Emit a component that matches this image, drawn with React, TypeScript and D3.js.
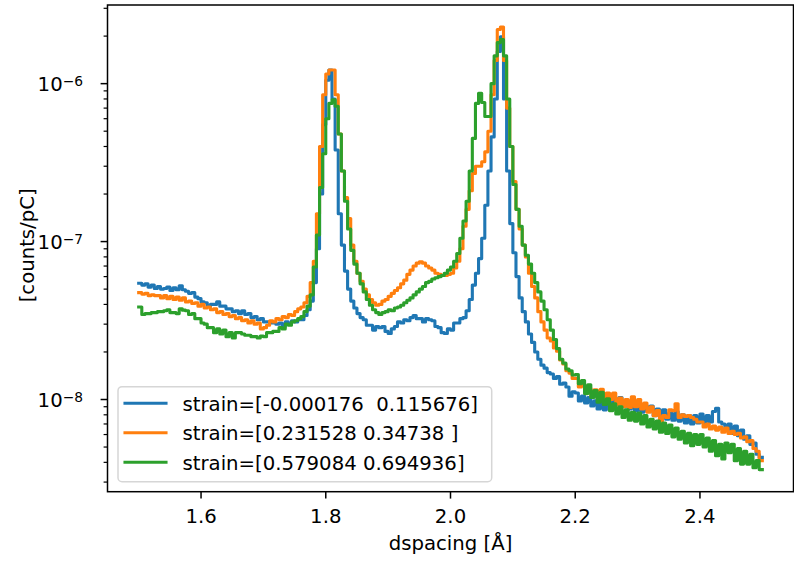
import React from 'react';
import * as d3 from 'd3';

// bin grid (d-spacing, Å)
const D_START = 1.5;
const D_STEP = 0.005;
// values are in units of 1e-8 counts/pC
const UNIT = 1e-8;

const BLUE = [
  5.45, 5.3, 5.4, 5.15, 5.3, 5.05, 5.2, 5.0, 5.05, 5.15,
  4.9, 5.1, 4.95, 5.25, 4.95, 4.85, 4.7, 4.75, 4.45, 4.35,
  4.15, 4.1, 3.9, 4.0, 4.0, 4.15, 3.9, 3.9, 3.75, 3.75,
  3.6, 3.65, 3.5, 3.65, 3.45, 3.5, 3.3, 3.35, 3.2, 3.25,
  3.1, 3.1, 3.05, 3.05, 3.0, 3.05, 2.9, 3.1, 3.0, 3.15,
  3.1, 3.2, 3.2, 3.4, 3.7, 4.2, 5.5, 9, 20, 55,
  105, 122, 80, 38, 15, 9.5, 6.5, 5.0, 4.2, 3.8,
  3.5, 3.3, 3.2, 2.95, 2.95, 2.75, 2.9, 2.85, 2.9, 2.7,
  2.62, 2.8, 2.9, 3.1, 3.05, 3.2, 3.15, 3.3, 3.4, 3.25,
  3.25, 3.1, 3.25, 3.2, 3.15, 2.9, 2.85, 2.65, 2.62, 2.8,
  2.75, 3.05, 3.05, 3.25, 3.3, 3.65, 4.3, 5.3, 6.3, 7.8,
  10.5, 17, 28, 46, 80, 160, 198, 80, 28, 13,
  8.5, 6.0, 4.4, 3.6, 3.1, 2.6, 2.3, 2.0, 1.8, 1.65,
  1.58, 1.48, 1.45, 1.36, 1.4, 1.25, 1.27, 1.2, 1.05, 1.12,
  1.1, 0.98, 1.05, 0.95, 1.03, 0.91, 0.98, 0.87, 0.95, 0.86,
  0.97, 0.9, 1.02, 0.94, 1.03, 0.9, 0.98, 0.87, 0.96, 0.85,
  0.93, 0.83, 0.92, 0.84, 0.91, 0.79, 0.87, 0.78, 0.86, 0.75,
  0.82, 0.74, 0.84, 0.73, 0.8, 0.71, 0.79, 0.7, 0.79, 0.71,
  0.81, 0.71, 0.79, 0.72, 0.84, 0.88, 0.72, 0.7, 0.64, 0.7,
  0.61, 0.68, 0.59, 0.64, 0.56, 0.59, 0.52, 0.53, 0.45, 0.43,
];

const ORANGE = [
  4.75, 4.65, 4.7, 4.55, 4.6, 4.55, 4.55, 4.4, 4.55, 4.35,
  4.5, 4.3, 4.45, 4.25, 4.4, 4.15, 4.2, 4.05, 4.1, 3.9,
  4.0, 3.8, 3.85, 3.7, 3.75, 3.55, 3.6, 3.45, 3.5, 3.35,
  3.4, 3.25, 3.3, 3.15, 3.2, 3.05, 3.15, 3.0, 3.05, 2.8,
  2.85, 2.95, 3.15, 3.1, 3.25, 3.2, 3.35, 3.3, 3.45, 3.4,
  3.6, 3.75, 3.85, 4.1, 4.5, 5.5, 7.5, 15, 40, 85,
  115, 122, 122, 85, 48, 28, 19, 14, 9.5, 7.5,
  6.3, 5.6, 5.0, 4.6, 4.3, 4.1, 3.95, 4.0, 4.2, 4.3,
  4.5, 4.7, 4.9, 5.1, 5.4, 5.7, 6.2, 6.6, 7.0, 7.3,
  7.45, 7.3, 7.0, 6.8, 6.6, 6.3, 6.2, 6.1, 6.1, 6.2,
  6.3, 6.8, 7.5, 9.0, 12.5, 16, 21, 27, 30, 30,
  32, 37, 50, 85, 140, 220, 228, 140, 70, 40,
  24, 16, 12, 9.5, 8.0, 6.3, 5.2, 4.4, 3.6, 3.1,
  2.75, 2.45, 2.35, 2.12, 2.02, 1.78, 1.68, 1.52, 1.47, 1.36,
  1.36, 1.2, 1.26, 1.1, 1.18, 1.05, 1.15, 1.03, 1.16, 0.98,
  1.1, 1.0, 1.1, 0.93, 1.02, 0.9, 1.0, 0.89, 1.04, 0.9,
  1.0, 0.87, 0.95, 0.83, 0.9, 0.79, 0.85, 0.73, 0.79, 0.77,
  0.86, 0.85, 0.94, 0.77, 0.8, 0.78, 0.79, 0.77, 0.75, 0.72,
  0.72, 0.67, 0.7, 0.65, 0.68, 0.64, 0.67, 0.62, 0.66, 0.61,
  0.63, 0.6, 0.61, 0.57, 0.58, 0.54, 0.55, 0.49, 0.47, 0.41,
];

const GREEN = [
  3.85, 3.45, 3.5, 3.5, 3.55, 3.55, 3.6, 3.6, 3.65, 3.7,
  3.55, 3.55, 3.5, 3.75, 3.68, 3.65, 3.45, 3.5, 3.25, 3.25,
  3.05, 3.0, 2.85, 2.85, 2.65, 2.8, 2.6, 2.75, 2.5, 2.65,
  2.45, 2.65, 2.65, 2.6, 2.55, 2.55, 2.5, 2.5, 2.45, 2.52,
  2.5, 2.65, 2.65, 2.7, 2.7, 2.85, 2.8, 3.0, 2.95, 3.1,
  3.15, 3.25, 3.35, 3.6, 3.9, 4.6, 6.9, 11, 22, 36,
  60, 75, 79, 72, 48, 28, 18, 12, 8.8, 7.2,
  6.3, 5.4, 4.8, 4.3, 3.95, 3.7, 3.55, 3.45, 3.55, 3.6,
  3.7, 3.65, 3.8, 3.85, 3.95, 4.1, 4.25, 4.4, 4.6, 4.8,
  5.0, 5.2, 5.5, 5.6, 5.8, 5.9, 6.0, 6.1, 6.3, 6.6,
  6.9, 7.5, 8.4, 10.5, 13.5, 18, 28, 45, 75, 87,
  76, 62, 62, 100, 150, 182, 190, 150, 80, 40,
  23, 16, 12.5, 9.5, 8.2, 7.2, 6.3, 5.5, 4.8, 4.2,
  3.7, 3.2, 2.75, 2.4, 2.1, 1.8, 1.7, 1.56, 1.52, 1.43,
  1.44, 1.26, 1.32, 1.09, 1.24, 1.03, 1.14, 0.96, 1.11, 0.93,
  1.01, 0.85, 0.94, 0.81, 0.9, 0.77, 0.86, 0.74, 0.83, 0.73,
  0.82, 0.7, 0.79, 0.67, 0.75, 0.65, 0.73, 0.62, 0.71, 0.61,
  0.69, 0.58, 0.66, 0.56, 0.63, 0.53, 0.61, 0.51, 0.6, 0.52,
  0.6, 0.5, 0.57, 0.47, 0.55, 0.44, 0.52, 0.42, 0.53, 0.46,
  0.52, 0.41, 0.49, 0.39, 0.47, 0.39, 0.45, 0.37, 0.41, 0.36,
];

const SERIES_LABELS = [
  'strain=[-0.000176  0.115676]',
  'strain=[0.231528 0.34738 ]',
  'strain=[0.579084 0.694936]',
];
const COLORS = ['#1f77b4', '#ff7f0e', '#2ca02c'];
const X_TICKS = [1.6, 1.8, 2.0, 2.2, 2.4];
const Y_MAJOR_EXP = [-8, -7, -6];
const X_LABEL = 'dspacing [Å]';
const Y_LABEL = '[counts/pC]';

const FONT = '"DejaVu Sans", sans-serif';
const FS = 19.7;

export default function App() {
  const W = 794;
  const H = 562;
  const L = 107.5, R = 793.5, T = 5, B = 491.7;

  const data = [BLUE, ORANGE, GREEN];
  const nBins = BLUE.length;
  const xStart = D_START;
  const xEnd = D_START + nBins * D_STEP;
  const xPad = (xEnd - xStart) * 0.05;
  const x = d3.scaleLinear().domain([xStart - xPad, xEnd + xPad]).range([L, R]);

  const allVals = data.flat().map((v) => v * UNIT);
  const [lo, hi] = d3.extent(allVals) as [number, number];
  const llo = Math.log10(lo), lhi = Math.log10(hi);
  const lpad = (lhi - llo) * 0.05;
  const y = d3.scaleLog().domain([Math.pow(10, llo - lpad), Math.pow(10, lhi + lpad)]).range([B, T]);

  const line = d3
    .line<[number, number]>()
    .x((p) => x(p[0]))
    .y((p) => y(p[1]))
    .curve(d3.curveStepAfter);

  const paths = data.map((arr) => {
    const pts: [number, number][] = arr.map((v, i) => [D_START + i * D_STEP, v * UNIT]);
    pts.push([D_START + arr.length * D_STEP, arr[arr.length - 1] * UNIT]);
    return line(pts) as string;
  });

  const [dLo, dHi] = y.domain();
  const minor: number[] = [];
  for (let e = -10; e <= -4; e++) {
    for (let k = 2; k <= 9; k++) {
      const v = k * Math.pow(10, e);
      if (v >= dLo && v <= dHi) minor.push(v);
    }
  }

  const legX = 118, legY = 386.7, legW = 373.7, legH = 95;
  const legRowY = [403.3, 432.8, 462.3];

  return (
    <div style={{ position: 'fixed', left: 0, top: 0 }}>
      <svg width={W} height={H} style={{ display: 'block', background: '#fff' }} fontFamily={FONT}>
        <rect x={0} y={0} width={W} height={H} fill="#fff" />
        <defs>
          <clipPath id="axclip">
            <rect x={L} y={T} width={R - L} height={B - T} />
          </clipPath>
        </defs>
        <g clipPath="url(#axclip)">
          {paths.map((d, i) => (
            <path
              key={i}
              d={d}
              fill="none"
              stroke={COLORS[i]}
              strokeWidth={3.1}
              strokeLinejoin="round"
              strokeLinecap="square"
            />
          ))}
        </g>
        {/* spines */}
        <rect x={L} y={T} width={R - L} height={B - T} fill="none" stroke="#000" strokeWidth={1.5} />
        {/* x ticks */}
        {X_TICKS.map((t) => (
          <g key={t}>
            <line x1={x(t)} x2={x(t)} y1={B} y2={B + 6.9} stroke="#000" strokeWidth={1.5} />
            <text x={x(t)} y={523} fontSize={FS} textAnchor="middle" fill="#000">
              {t.toFixed(1)}
            </text>
          </g>
        ))}
        {/* y minor ticks */}
        {minor.map((v) => (
          <line key={v} x1={L - 3.9} x2={L} y1={y(v)} y2={y(v)} stroke="#000" strokeWidth={1.2} />
        ))}
        {/* y major ticks */}
        {Y_MAJOR_EXP.map((e) => {
          const yy = y(Math.pow(10, e));
          return (
            <g key={e}>
              <line x1={L - 6.9} x2={L} y1={yy} y2={yy} stroke="#000" strokeWidth={1.5} />
              <text x={83} y={yy + 7.6} fontSize={FS} textAnchor="end" fill="#000">
                10
                <tspan fontSize={FS * 0.7} dy={-5.2}>
                  {'\u2212' + Math.abs(e)}
                </tspan>
              </text>
            </g>
          );
        })}
        {/* axis labels */}
        <text x={(L + R) / 2} y={550} fontSize={FS} textAnchor="middle" fill="#000">
          {X_LABEL}
        </text>
        <text
          transform={`translate(34, ${(T + B) / 2 - 3}) rotate(-90)`}
          fontSize={FS}
          textAnchor="middle"
          fill="#000"
        >
          {Y_LABEL}
        </text>
        {/* legend */}
        <rect
          x={legX}
          y={legY}
          width={legW}
          height={legH}
          rx={4}
          ry={4}
          fill="#fff"
          fillOpacity={0.8}
          stroke="#d6d6d6"
          strokeWidth={1.5}
        />
        {SERIES_LABELS.map((lab, i) => (
          <g key={lab}>
            <line
              x1={125}
              x2={166}
              y1={legRowY[i]}
              y2={legRowY[i]}
              stroke={COLORS[i]}
              strokeWidth={3.1}
              strokeLinecap="square"
            />
            <text x={182.5} y={legRowY[i] + 7.3} fontSize={FS} fill="#000" style={{ whiteSpace: 'pre' }}>
              {lab}
            </text>
          </g>
        ))}
      </svg>
    </div>
  );
}
